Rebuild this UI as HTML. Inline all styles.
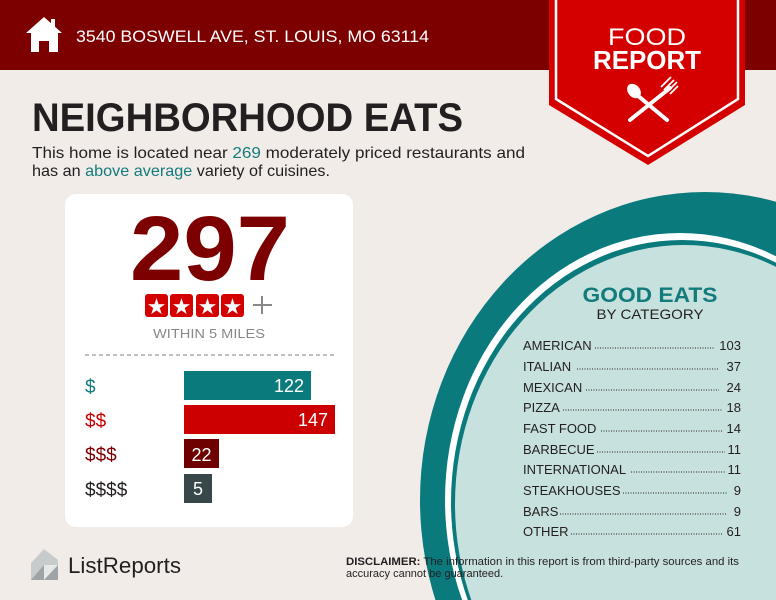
<!DOCTYPE html>
<html><head><meta charset="utf-8"><style>
html,body{margin:0;padding:0;background:#f1ece8;width:776px;height:600px;overflow:hidden;}
svg{display:block;font-family:"Liberation Sans",sans-serif;}
</style></head><body>
<svg width="776" height="600" viewBox="0 0 776 600" xmlns="http://www.w3.org/2000/svg">
<rect width="776" height="600" fill="#f1ece8"/>
<!-- circle -->
<ellipse cx="705" cy="500" rx="285" ry="308" fill="#0a7a7c"/>
<ellipse cx="680" cy="500" rx="235" ry="267" fill="#fff"/>
<ellipse cx="682" cy="502" rx="231" ry="262" fill="#0a7a7c"/>
<ellipse cx="684" cy="504" rx="229" ry="259" fill="#c7e1de"/>
<rect width="776" height="70" fill="#7d0000"/>
<!-- house -->
<path d="M44,17 L62,33 L58,33 L58,52 L49,52 L49,41 L39,41 L39,52 L31,52 L31,33 L26,33 Z" fill="#fff"/>
<rect x="51" y="19" width="4" height="8" fill="#fff"/>
<text x="76" y="42" font-size="17" fill="#fff" textLength="353" lengthAdjust="spacingAndGlyphs">3540 BOSWELL AVE, ST. LOUIS, MO 63114</text>
<!-- ribbon -->
<path d="M549,0 L745,0 L745,105 L648,165 L549,105 Z" fill="#d40000"/>
<path d="M556,0 L556,99 L648,156 L738,99 L738,0" fill="none" stroke="#fff" stroke-width="2.5"/>
<text x="647" y="45" font-size="24" fill="#fff" text-anchor="middle" textLength="78" lengthAdjust="spacingAndGlyphs">FOOD</text>
<text x="647" y="69" font-size="26" font-weight="bold" fill="#fff" text-anchor="middle" textLength="108" lengthAdjust="spacingAndGlyphs">REPORT</text>
<ellipse cx="634" cy="91" rx="6" ry="8" fill="#fff" transform="rotate(-40 634 91)"/>
<line x1="637" y1="95" x2="667" y2="120" stroke="#fff" stroke-width="4" stroke-linecap="round"/>
<line x1="670" y1="88" x2="630" y2="120" stroke="#fff" stroke-width="4" stroke-linecap="round"/>
<path d="M664,90 L674,80 M667,92 L677,82 M661,87 L671,77 M670,94 L678,86" stroke="#fff" stroke-width="1.8"/>
<!-- title -->
<text x="32" y="131" font-size="40" font-weight="bold" fill="#231f20" textLength="431" lengthAdjust="spacingAndGlyphs">NEIGHBORHOOD EATS</text>
<text x="32" y="158" font-size="16" fill="#231f20" textLength="493" lengthAdjust="spacingAndGlyphs">This home is located near <tspan fill="#137b7c">269</tspan> moderately priced restaurants and</text>
<text x="32" y="176" font-size="16" fill="#231f20" textLength="298" lengthAdjust="spacingAndGlyphs">has an <tspan fill="#137b7c">above average</tspan> variety of cuisines.</text>
<text x="650" y="302" font-size="21" font-weight="bold" fill="#137b7c" text-anchor="middle" textLength="135" lengthAdjust="spacingAndGlyphs">GOOD EATS</text>
<text x="650" y="319" font-size="14" fill="#231f20" text-anchor="middle" textLength="107" lengthAdjust="spacingAndGlyphs">BY CATEGORY</text>
<g font-size="13" fill="#231f20">
<text x="523" y="350">AMERICAN</text><text x="741" y="350" text-anchor="end">103</text>
<text x="523" y="371">ITALIAN</text><text x="741" y="371" text-anchor="end">37</text>
<text x="523" y="392">MEXICAN</text><text x="741" y="392" text-anchor="end">24</text>
<text x="523" y="412">PIZZA</text><text x="741" y="412" text-anchor="end">18</text>
<text x="523" y="433">FAST FOOD</text><text x="741" y="433" text-anchor="end">14</text>
<text x="523" y="454">BARBECUE</text><text x="741" y="454" text-anchor="end">11</text>
<text x="523" y="474">INTERNATIONAL</text><text x="741" y="474" text-anchor="end">11</text>
<text x="523" y="495">STEAKHOUSES</text><text x="741" y="495" text-anchor="end">9</text>
<text x="523" y="516">BARS</text><text x="741" y="516" text-anchor="end">9</text>
<text x="523" y="536">OTHER</text><text x="741" y="536" text-anchor="end">61</text>
</g>
<g stroke="#231f20" stroke-width="1" stroke-dasharray="1 1.5">
<line x1="595" y1="348" x2="714" y2="348"/>
<line x1="577" y1="369" x2="719" y2="369"/>
<line x1="586" y1="390" x2="719" y2="390"/>
<line x1="563" y1="410" x2="722" y2="410"/>
<line x1="601" y1="431" x2="722" y2="431"/>
<line x1="597" y1="452" x2="725" y2="452"/>
<line x1="631" y1="472" x2="725" y2="472"/>
<line x1="623" y1="493" x2="727" y2="493"/>
<line x1="560" y1="514" x2="727" y2="514"/>
<line x1="571" y1="534" x2="722" y2="534"/>
</g>
<!-- card -->
<rect x="65" y="194" width="288" height="333" rx="11" fill="#fff"/>
<text x="210" y="280" font-size="92" font-weight="bold" fill="#7d0000" text-anchor="middle" textLength="160" lengthAdjust="spacingAndGlyphs">297</text>
<g fill="#d40000">
<rect x="145" y="294" width="23" height="23" rx="3"/>
<rect x="170" y="294" width="23" height="23" rx="3"/>
<rect x="196" y="294" width="23" height="23" rx="3"/>
<rect x="221" y="294" width="23" height="23" rx="3"/>
</g>
<g fill="#fff" font-size="22" text-anchor="middle">
<text x="156.5" y="314">★</text><text x="181.5" y="314">★</text><text x="207.5" y="314">★</text><text x="232.5" y="314">★</text>
</g>
<path d="M262,296 L262,314 M253,305 L272,305" stroke="#888" stroke-width="2"/>
<text x="209" y="338" font-size="13" fill="#888" text-anchor="middle" textLength="112" lengthAdjust="spacingAndGlyphs">WITHIN 5 MILES</text>
<line x1="85" y1="355" x2="335" y2="355" stroke="#aaa" stroke-width="1.5" stroke-dasharray="4 3"/>
<g font-size="19">
<text x="85" y="393" fill="#137b7c">$</text>
<text x="85" y="427" fill="#cc0000">$$</text>
<text x="85" y="461" fill="#7d0000">$$$</text>
<text x="85" y="496" fill="#231f20">$$$$</text>
</g>
<rect x="184" y="371" width="127" height="29" fill="#0a7a7c"/>
<rect x="184" y="405" width="151" height="29" fill="#cc0000"/>
<rect x="184" y="439" width="35" height="29" fill="#6e0000"/>
<rect x="184" y="474" width="28" height="29" fill="#37474a"/>
<g font-size="18" fill="#fff">
<text x="304" y="392" text-anchor="end">122</text>
<text x="328" y="426" text-anchor="end">147</text>
<text x="201.5" y="461" text-anchor="middle">22</text>
<text x="198" y="495" text-anchor="middle">5</text>
</g>
<!-- logo -->
<path d="M31,563 L44,549 L58,560 L58,580 L31,580 Z" fill="#c8cbcc"/>
<path d="M31,580 L44,565 L58,565 L58,580 Z" fill="#9fa3a5"/>
<path d="M44,565 L58,565 L44,580 Z" fill="#e6e8e8"/>
<text x="68" y="573" font-size="22" fill="#231f20" textLength="113" lengthAdjust="spacingAndGlyphs">ListReports</text>
<text x="346" y="565" font-size="11" fill="#231f20" textLength="393" lengthAdjust="spacingAndGlyphs"><tspan font-weight="bold">DISCLAIMER:</tspan> The information in this report is from third-party sources and its</text>
<text x="346" y="577" font-size="11" fill="#231f20">accuracy cannot be guaranteed.</text>
</svg>
</body></html>
